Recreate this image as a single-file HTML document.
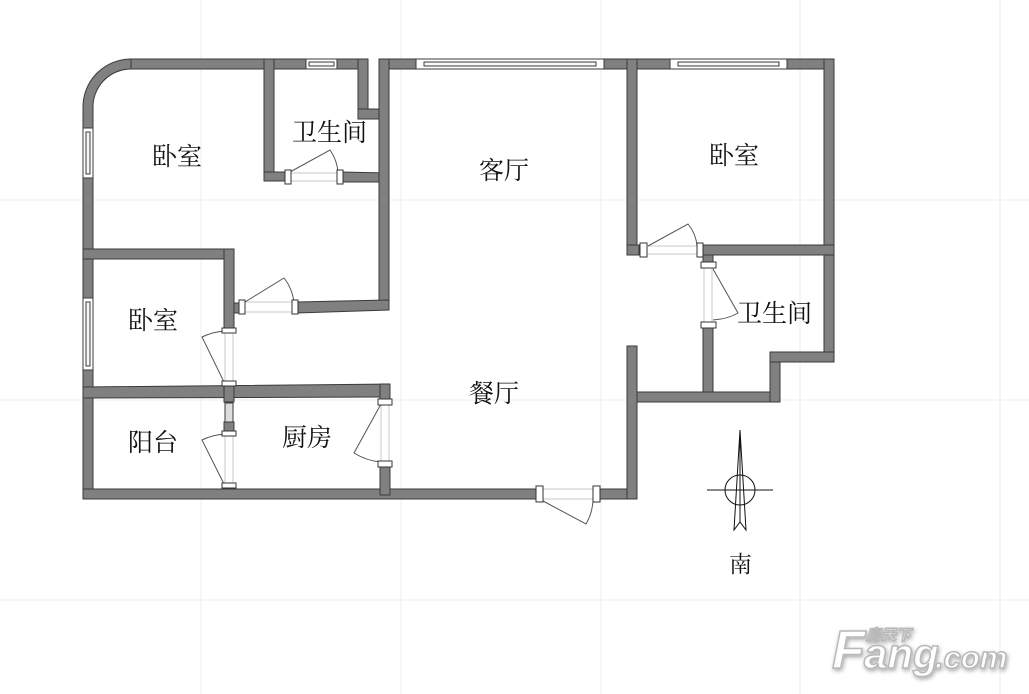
<!DOCTYPE html>
<html><head><meta charset="utf-8"><style>
html,body{margin:0;padding:0;background:#fff}
svg{display:block}
text{font-family:"Liberation Serif","Noto Serif CJK SC",serif;font-size:25px;fill:#111}
</style></head><body>
<svg width="1029" height="694" viewBox="0 0 1029 694" xmlns="http://www.w3.org/2000/svg">
<defs><filter id="sh" x="-10%" y="-20%" width="120%" height="140%"><feGaussianBlur in="SourceAlpha" stdDeviation="2"/><feOffset dx="1" dy="2"/><feComponentTransfer><feFuncA type="linear" slope="0.35"/></feComponentTransfer><feMerge><feMergeNode/><feMergeNode in="SourceGraphic"/></feMerge></filter></defs>
<g stroke="#ececec" stroke-width="1">
<line x1="201" y1="0" x2="201" y2="694"/><line x1="401" y1="0" x2="401" y2="694"/>
<line x1="601" y1="0" x2="601" y2="694"/><line x1="800" y1="0" x2="800" y2="694"/>
<line x1="1000" y1="0" x2="1000" y2="694"/>
<line x1="0" y1="200" x2="1029" y2="200"/><line x1="0" y1="400" x2="1029" y2="400"/>
<line x1="0" y1="600" x2="1029" y2="600"/>
</g>
<g fill="#808080" stroke="#3a3a3a" stroke-width="1">
<path d="M83,128 L83,108 A48,48 0 0 1 131,59 L131,69 A38,38 0 0 0 93,108 L93,128 Z"/>
<rect x="131" y="59" width="175" height="10"/>
<rect x="337" y="59" width="31" height="10"/>
<rect x="379" y="59" width="37" height="10"/>
<rect x="604" y="59" width="66" height="10"/>
<rect x="787" y="59" width="47" height="10"/>
<rect x="83" y="178" width="10" height="120"/>
<rect x="83" y="370" width="10" height="129"/>
<rect x="83" y="489" width="453" height="10"/>
<rect x="600" y="489" width="37" height="10"/>
<rect x="824" y="59" width="10" height="303"/>
<rect x="264" y="59" width="10" height="122"/>
<rect x="264" y="172" width="22" height="9"/>
<polygon points="341,172 389,173 389,182 341,182"/>
<rect x="358" y="59" width="10" height="60"/>
<rect x="358" y="109" width="31" height="10"/>
<rect x="379" y="59" width="10" height="251"/>
<polygon points="297,302 389,300 389,310 297,313"/>
<rect x="234" y="303" width="8" height="10"/>
<rect x="83" y="249" width="151" height="10"/>
<rect x="224" y="249" width="10" height="80"/>
<polygon points="83,387 390,384 390,397 83,398"/>
<rect x="380" y="384" width="10" height="15"/>
<rect x="380" y="465" width="10" height="30"/>
<rect x="224" y="384" width="10" height="18"/>
<rect x="224" y="422" width="10" height="10"/>
<rect x="627" y="59" width="10" height="196"/>
<rect x="627" y="245" width="12" height="10"/>
<rect x="700" y="245" width="134" height="10"/>
<rect x="703" y="255" width="10" height="12"/>
<rect x="703" y="324" width="10" height="78"/>
<rect x="627" y="346" width="10" height="153"/>
<rect x="637" y="392" width="143" height="10"/>
<rect x="770" y="352" width="10" height="50"/>
<rect x="770" y="352" width="64" height="10"/>
</g>
<g stroke="#3a3a3a" stroke-width="1">
<rect x="306" y="59" width="31" height="10" fill="#fff"/>
<rect x="309" y="62" width="25" height="4" fill="#f4f8f8"/>
<rect x="416" y="59" width="188" height="10" fill="#fff"/>
<rect x="424" y="62" width="172" height="4" fill="#f4f8f8"/>
<rect x="670" y="59" width="117" height="10" fill="#fff"/>
<rect x="678" y="62" width="101" height="4" fill="#f4f8f8"/>
<rect x="83" y="128" width="10" height="50" fill="#fff"/>
<rect x="86" y="132" width="4" height="42" fill="#f4f8f8"/>
<rect x="83" y="298" width="10" height="72" fill="#fff"/>
<rect x="86" y="302" width="4" height="64" fill="#f4f8f8"/>
<rect x="225" y="403" width="8" height="19" fill="#ddd"/>
</g>
<g stroke="#c8c8c8" stroke-width="1" fill="none">
<line x1="288" y1="173" x2="340" y2="173"/><line x1="288" y1="181" x2="340" y2="181"/>
<line x1="243" y1="302" x2="295" y2="302"/><line x1="243" y1="312" x2="295" y2="312"/>
<line x1="225" y1="330" x2="225" y2="384"/><line x1="233" y1="330" x2="233" y2="384"/>
<line x1="225" y1="432" x2="225" y2="486"/><line x1="233" y1="432" x2="233" y2="486"/>
<line x1="381" y1="403" x2="381" y2="463"/><line x1="389" y1="403" x2="389" y2="463"/>
<line x1="543" y1="489" x2="593" y2="489"/><line x1="543" y1="499" x2="593" y2="499"/>
<line x1="645" y1="246" x2="697" y2="246"/><line x1="645" y1="254" x2="697" y2="254"/>
<line x1="704" y1="267" x2="704" y2="322"/><line x1="712" y1="267" x2="712" y2="322"/>
</g>
<g stroke="#555" stroke-width="1" fill="none">
<path d="M290,172 L330,150 Q337,160 338,172"/>
<path d="M245,302 L284,278 Q292,288 294,302"/>
<path d="M225,384 L202,337 Q212,332 225,331"/>
<path d="M225,486 L202,440 Q212,435 225,434"/>
<path d="M381,404 L354,453 Q367,461 381,462"/>
<path d="M543,501 L586,524 Q592,514 593,501"/>
<path d="M648,246 L688,224 Q696,234 697,246"/>
<path d="M713,269 L738,313 Q728,319 713,320"/>
</g>
<g fill="#fff" stroke="#333" stroke-width="1">
<rect x="285" y="170" width="6" height="14"/><rect x="337" y="170" width="6" height="14"/>
<rect x="239" y="300" width="6" height="14"/><rect x="292" y="300" width="6" height="14"/>
<rect x="222" y="328" width="14" height="5"/><rect x="222" y="381" width="14" height="5"/>
<rect x="222" y="431" width="14" height="5"/><rect x="222" y="483" width="14" height="5"/>
<rect x="378" y="399" width="14" height="6"/><rect x="378" y="461" width="14" height="6"/>
<rect x="536" y="486" width="7" height="16"/><rect x="593" y="486" width="7" height="16"/>
<rect x="640" y="243" width="7" height="14"/><rect x="697" y="243" width="6" height="14"/>
<rect x="701" y="262" width="15" height="6"/><rect x="701" y="322" width="15" height="6"/>
</g>
<text x="152" y="165">卧室</text>
<text x="292" y="141">卫生间</text>
<text x="479" y="179">客厅</text>
<text x="709" y="164">卧室</text>
<text x="128" y="329">卧室</text>
<text x="737" y="322">卫生间</text>
<text x="469" y="402">餐厅</text>
<text x="128" y="451">阳台</text>
<text x="282" y="446">厨房</text>
<text x="729" y="572" style="font-size:23px">南</text>
<g stroke="#111" stroke-width="1" fill="none">
<circle cx="740" cy="490" r="15"/>
<line x1="707" y1="490" x2="773" y2="490"/>
<path d="M740,430 L734,530 L740,522 L746,530 Z"/>
<line x1="740" y1="430" x2="740" y2="522"/>
</g>
<g filter="url(#sh)" style="font-weight:bold;font-style:italic" fill="#fff" stroke="#b8b8b8" stroke-width="1.5">
<text x="832" y="668" style="font-size:54px;font-family:'Liberation Sans',sans-serif;fill:#fff;font-weight:bold">F</text>
<text x="864" y="668" style="font-size:42px;font-family:'Liberation Sans',sans-serif;fill:#fff;font-weight:bold">ang</text>
<text x="935" y="668" style="font-size:31px;font-family:'Liberation Sans',sans-serif;fill:#fff;font-weight:bold">.com</text>
<text x="866" y="640" style="font-size:15px;font-family:'Noto Sans CJK SC',sans-serif;fill:#fff;font-weight:bold">房天下</text>
</g>
</svg>
</body></html>
